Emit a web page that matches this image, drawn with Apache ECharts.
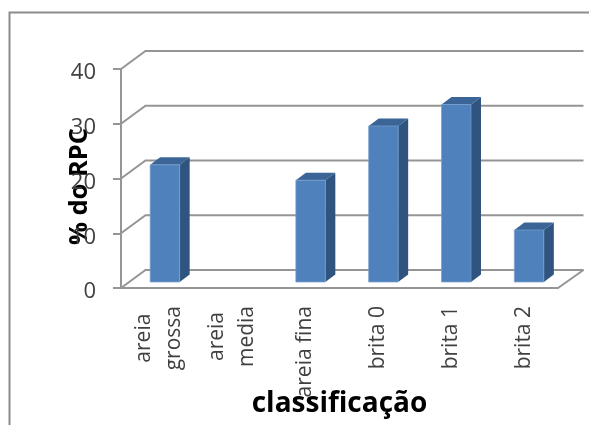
<!DOCTYPE html>
<html>
<head>
<meta charset="utf-8">
<style>html,body{margin:0;padding:0;background:#fff}#chart{width:589px;height:425px}</style>
<script src="https://cdn.jsdelivr.net/npm/echarts@6/dist/echarts.min.js"></script>
</head>
<body>
<div id="chart"></div>
<script>
// Particle-size classes and their share of the RPC mix
const categories = ['areia\ngrossa', 'areia\nmedia', 'areia fina', 'brita 0', 'brita 1', 'brita 2'];
const percentages = [21.4, null, 18.6, 28.5, 32.4, 9.5];
const valueTicks = [0, 10, 20, 30, 40];

const GRID_COLOR = '#959595';
const LINE_WIDTH = 2;
const FONT = '"Open Sans"';
const WALL_DX = 24.5, WALL_DY = -18;       // depth of the back wall
const BAR_DX = 10, BAR_DY = -7.5;          // depth of each column
const BAR_SHIFT_X = 7.5, BAR_SHIFT_Y = -6; // columns stand mid-way across the floor

const chart = echarts.init(document.getElementById('chart'), null, {renderer: 'canvas'});

// Pseudo-3D back wall: each gridline runs in from the axis, then along the wall
function renderWall(params, api) {
  const v = api.value(0);
  const left = api.coord([0, v]);
  const right = api.coord([categories.length - 1, v]);
  const half = api.size([1, 0])[0] / 2;
  const x0 = left[0] - half, x1 = right[0] + half, y = left[1];
  const children = [{
    type: 'polyline',
    shape: {points: [[x0, y], [x0 + WALL_DX, y + WALL_DY], [x1 + WALL_DX + 1, y + WALL_DY]]},
    style: {fill: 'none', stroke: GRID_COLOR, lineWidth: LINE_WIDTH}
  }];
  if (v === 0) {
    children.push({
      type: 'line',
      shape: {x1: x1, y1: y, x2: x1 + WALL_DX + 1, y2: y + WALL_DY},
      style: {stroke: GRID_COLOR, lineWidth: LINE_WIDTH}
    });
  }
  return {type: 'group', children: children};
}

// A column as three faces: front, side and top
function renderColumn(params, api) {
  const v = api.value(1);
  if (isNaN(v)) return null;
  const top = api.coord([api.value(0), v]);
  const base = api.coord([api.value(0), 0]);
  const w = api.size([1, 0])[0] * 0.405;
  const xl = top[0] - w / 2 + BAR_SHIFT_X, xr = xl + w;
  const yt = top[1] + BAR_SHIFT_Y, yb = base[1] + BAR_SHIFT_Y;
  return {
    type: 'group',
    children: [
      {type: 'polygon',
       shape: {points: [[xr, yt], [xr + BAR_DX, yt + BAR_DY], [xr + BAR_DX, yb + BAR_DY], [xr, yb]]},
       style: {fill: '#2f5480'}},
      {type: 'polygon',
       shape: {points: [[xl, yt], [xl + BAR_DX, yt + BAR_DY], [xr + BAR_DX, yt + BAR_DY], [xr, yt]]},
       style: {fill: '#3a6596'}},
      {type: 'rect',
       shape: {x: xl, y: yt, width: w, height: yb - yt},
       style: {fill: '#4f81bd', stroke: '#7aa0cf', lineWidth: 0.7}}
    ]
  };
}

chart.setOption({
  animation: false,
  backgroundColor: '#ffffff',
  textStyle: {fontFamily: FONT},
  graphic: [{
    type: 'polyline',
    silent: true,
    shape: {points: [[9.5, 425], [9.5, 12.5], [589, 12.5]]},
    style: {fill: 'none', stroke: '#8c8c8c', lineWidth: 2}
  }],
  grid: {left: 121, right: 31, top: 69, bottom: 137, containLabel: false, outerBoundsMode: 'none'},
  xAxis: {
    type: 'category',
    data: categories,
    name: 'classificação',
    nameLocation: 'middle',
    nameGap: 102,
    nameMoveOverlap: false,
    nameTextStyle: {fontFamily: FONT, fontWeight: 'bold', fontSize: 28, color: '#000'},
    axisLine: {lineStyle: {color: GRID_COLOR, width: LINE_WIDTH}},
    axisTick: {length: 8, lineStyle: {color: GRID_COLOR, width: LINE_WIDTH}},
    axisLabel: {
      interval: 0,
      rotate: 90,
      margin: 18,
      color: '#404040',
      fontFamily: FONT,
      fontSize: 21,
      lineHeight: 30,
      padding: [4, 0, 0, 0],
      formatter: function (name) {
        return name.split('\n').map(function (line) { return '{line|' + line + '}'; }).join('\n');
      },
      rich: {line: {align: 'center', fontFamily: FONT, fontSize: 21, lineHeight: 30, color: '#404040'}}
    }
  },
  yAxis: {
    type: 'value',
    min: 0,
    max: 40,
    interval: 10,
    name: '% do RPC',
    nameLocation: 'middle',
    nameGap: 28,
    nameMoveOverlap: false,
    nameTextStyle: {fontFamily: FONT, fontWeight: 'bold', fontSize: 25.5, color: '#000', padding: [0, 16, 0, 0]},
    splitLine: {show: false},
    axisLine: {show: true, lineStyle: {color: GRID_COLOR, width: LINE_WIDTH}},
    axisTick: {show: true, length: 8, lineStyle: {color: GRID_COLOR, width: LINE_WIDTH}},
    axisLabel: {color: '#404040', fontFamily: FONT, fontSize: 22, margin: 25, verticalAlign: 'top', lineHeight: 8}
  },
  series: [
    {
      type: 'custom',
      silent: true,
      z: 1,
      clip: false,
      renderItem: renderWall,
      data: valueTicks.map(function (t) { return [t]; }),
      encode: {y: 0}
    },
    {
      type: 'custom',
      z: 3,
      clip: false,
      renderItem: renderColumn,
      data: percentages.map(function (p, i) { return [i, p]; }),
      encode: {x: 0, y: 1}
    }
  ]
});
</script>
</body>
</html>
